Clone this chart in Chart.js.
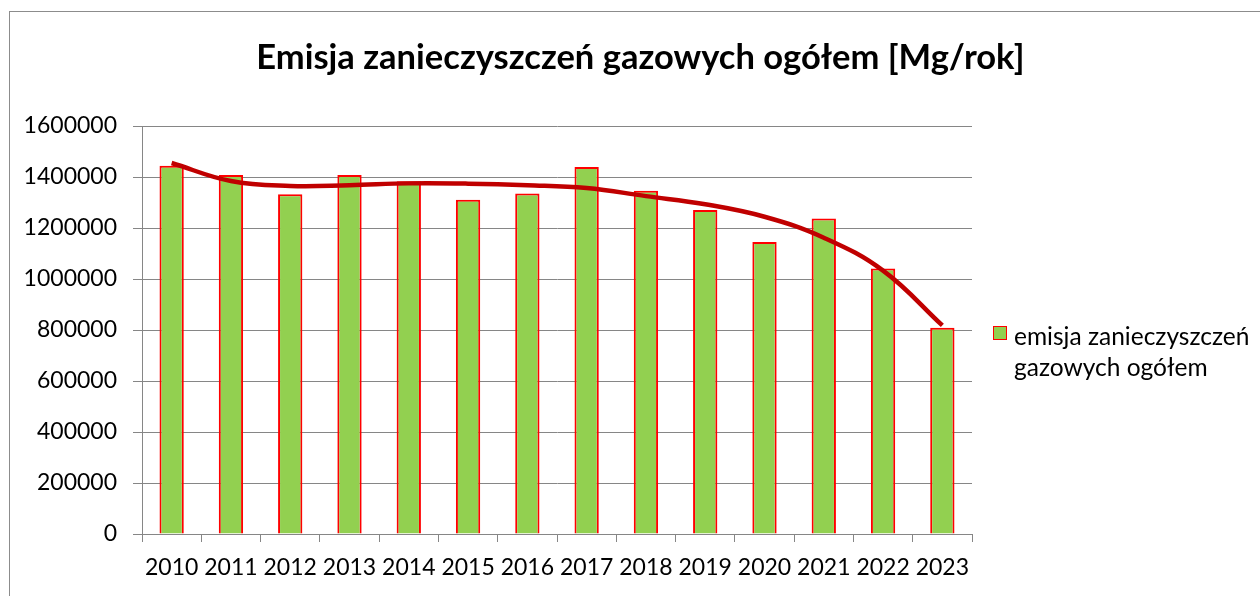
<!DOCTYPE html>
<html>
<head>
<meta charset="utf-8">
<script src="https://cdn.jsdelivr.net/npm/chart.js@4/dist/chart.umd.min.js"></script>
<style>
  body { margin: 0; background: #fff; }
  #wrap { position: relative; width: 1260px; height: 596px; overflow: hidden; font-family: Lato, "Open Sans", sans-serif; }
  #frame { position: absolute; left: 9px; top: 11px; width: 1270px; height: 620px; border: 1px solid #8c8c8c; }
  #title { position: absolute; left: 0; top: 35px; width: 1281px; text-align: center; font-weight: bold; font-size: 34.5px; color: #000; }
  #legend { position: absolute; left: 993px; top: 320px; font-size: 24.5px; line-height: 31px; color: #000; }
  #legend .box { position: absolute; left: 0; top: 6px; width: 12px; height: 12px; background: #92D050; border: 1.5px solid #ff0000; }
  #legend .txt { margin-left: 21px; }
  canvas { position: absolute; left: 0; top: 0; }
</style>
</head>
<body>
<div id="wrap">
  <div id="frame"></div>
  <canvas id="myChart" width="1260" height="596"></canvas>
  <div id="title">Emisja zanieczyszczeń gazowych ogółem [Mg/rok]</div>
  <div id="legend"><div class="box"></div><div class="txt" id="legendText"></div></div>
</div>
<script>
// data
var years = ['2010', '2011', '2012', '2013', '2014', '2015', '2016', '2017', '2018', '2019', '2020', '2021', '2022', '2023'];
var emisja = [1444000, 1408000, 1332000, 1408000, 1383000, 1311000, 1335000, 1439000, 1346000, 1271000, 1145000, 1237000, 1041000, 809000];
// trend line (polynomial in the original) at each year
var trend = [1455000, 1384000, 1365000, 1368000, 1375000, 1374000, 1368000, 1357000, 1325000, 1293000, 1244000, 1162000, 1033000, 818000];
var seriesLabel = 'emisja zanieczyszczeń gazowych ogółem';
var yTicks = [0, 200000, 400000, 600000, 800000, 1000000, 1200000, 1400000, 1600000];

document.getElementById('legendText').innerHTML = 'emisja zanieczyszczeń<br>gazowych ogółem';

var ctx = document.getElementById('myChart');
var gridColor = '#868686';

var myChart = new Chart(ctx, {
  type: 'bar',
  data: {
    labels: years,
    datasets: [{
      type: 'line',
      label: 'trend',
      data: trend,
      borderColor: '#C00000',
      borderWidth: 4.5,
      pointRadius: 0,
      fill: false,
      tension: 0.4,
      order: 0
    }, {
      label: seriesLabel,
      data: emisja,
      backgroundColor: '#92D050',
      borderColor: '#FF0000',
      borderWidth: 2,
      categoryPercentage: 1,
      barPercentage: 0.41,
      order: 1
    }]
  },
  options: {
    responsive: false,
    animation: false,
    layout: { padding: { top: 126, right: 288, bottom: 0, left: 0 } },
    plugins: {
      legend: { display: false },
      title: { display: false },
      tooltip: { enabled: false }
    },
    scales: {
      x: {
        grid: { drawOnChartArea: false, drawTicks: true, tickLength: 8, color: gridColor },
        border: { display: true, color: gridColor, width: 1 },
        ticks: { color: '#000', font: { family: 'Lato', size: 23 }, padding: 12, maxRotation: 0 },
        afterFit: function(scale) { scale.height = 62; }
      },
      y: {
        min: 0,
        max: 1600000,
        afterBuildTicks: function(scale) {
          scale.ticks = yTicks.map(function(v) { return { value: v }; });
        },
        grid: { color: gridColor, tickLength: 9, lineWidth: 1 },
        border: { display: true, color: gridColor, width: 1 },
        ticks: { color: '#000', font: { family: 'Lato', size: 23 }, padding: 16, callback: function(v) { return String(v); } },
        afterFit: function(scale) { scale.width = 142; }
      }
    }
  }
});
</script>
</body>
</html>
